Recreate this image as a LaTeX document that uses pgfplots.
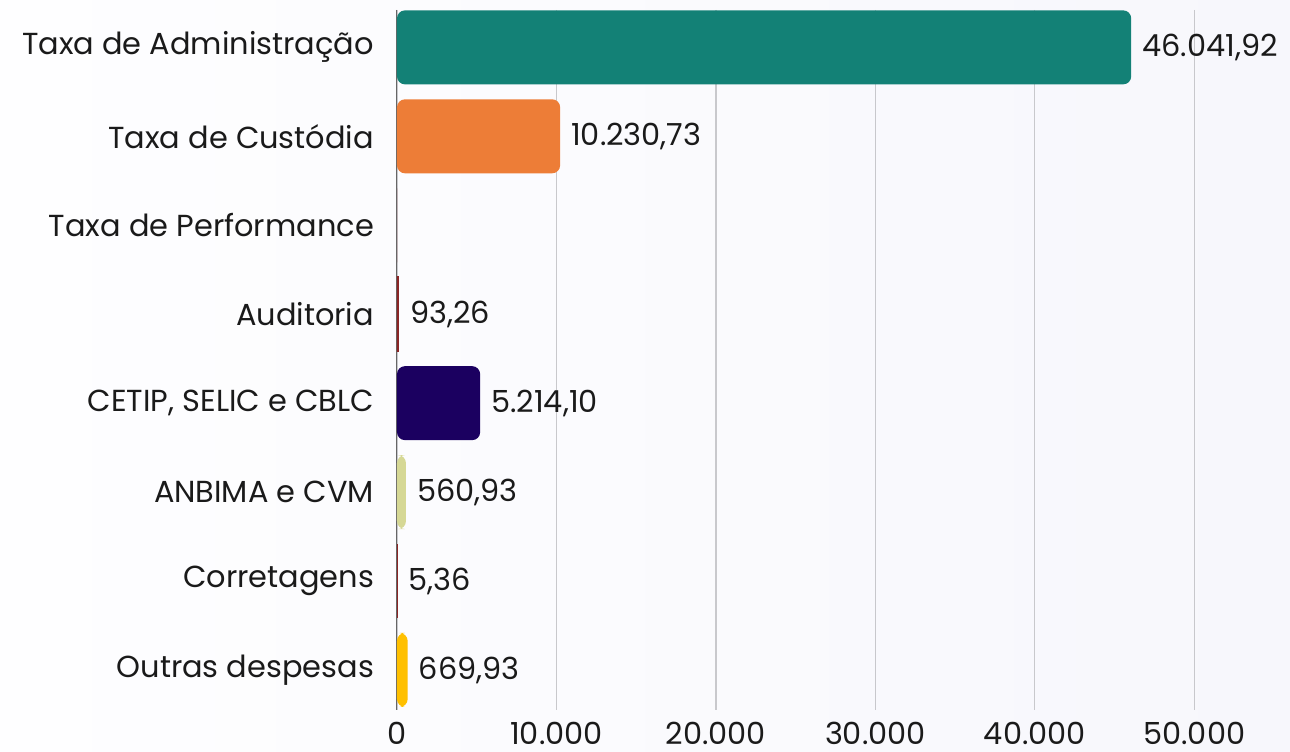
\documentclass[border=0pt]{standalone}
\usepackage{fontspec}
\setmainfont{Poppins}
\usepackage{pgfplots}
\pgfplotsset{compat=1.18}
\definecolor{cTeal}{HTML}{138176}
\definecolor{cOrange}{HTML}{ED7D37}
\definecolor{cRed}{HTML}{8B2525}
\definecolor{cIndigo}{HTML}{1B0060}
\definecolor{cOlive}{HTML}{D6D895}
\definecolor{cYellow}{HTML}{FFC000}
\definecolor{cGrid}{HTML}{C8C8CC}
\definecolor{cText}{HTML}{1A1A1A}
\definecolor{bgL}{HTML}{FEFEFF}
\definecolor{bgR}{HTML}{F7F7FC}
\begin{document}
\begin{tikzpicture}
\shade[left color=bgL, right color=bgR] (-198.5pt,-20.5pt) rectangle (446.5pt,355pt);
\begin{axis}[
  at={(0,0)}, anchor=south west,
  scale only axis, width=446.5pt, height=350pt,
  x coord trafo/.code={\begingroup\pgfkeys{/pgf/fpu=true,/pgf/fpu/output format=fixed}\pgfmathparse{#1+3000}\global\let\mytrafores\pgfmathresult\endgroup\let\pgfmathresult\mytrafores},
  x coord inv trafo/.code={\begingroup\pgfkeys{/pgf/fpu=true,/pgf/fpu/output format=fixed}\pgfmathparse{#1-3000}\global\let\mytrafores\pgfmathresult\endgroup\let\pgfmathresult\mytrafores},
  xmin=0, xmax=56000,
  ymin=-0.42, ymax=7.45, y dir=reverse,
  xbar, bar width=37pt, bar shift=0pt,
  scaled x ticks=false,
  xtick={0,10000,20000,30000,40000,50000},
  xticklabels={\textnormal{0},\textnormal{10.000},\textnormal{20.000},\textnormal{30.000},\textnormal{40.000},\textnormal{50.000}},
  ytick={0,1,2,3,4,5,6,7},
  yticklabels={Taxa de Administração,Taxa de Custódia,Taxa de Performance,Auditoria,{CETIP, SELIC e CBLC},ANBIMA e CVM,Corretagens,Outras despesas},
  /pgf/number format/assume math mode=true,
  major tick length=0pt,
  axis x line*=bottom, x axis line style={draw=none},
  axis y line*=left, y axis line style={draw=gray!80!black, line width=0.5pt},
  xmajorgrids, grid style={draw=cGrid, line width=0.6pt},
  tick label style={font=\fontsize{15.2}{18}\selectfont, text=cText},
  yticklabel style={xshift=-8pt},
  xticklabel style={yshift=-2.5pt},
  point meta=explicit symbolic,
  nodes near coords,
  every node near coord/.append style={font=\fontsize{15.2}{18}\selectfont, text=cText, anchor=west, xshift=2pt},
  mybar/.style={draw=none, fill=#1, rounded corners=4pt},
]
\addplot[mybar=cTeal] coordinates {(46041.92,0) [46.041,92]};
\addplot[mybar=cOrange] coordinates {(10230.73,1) [10.230,73]};
\addplot[mybar=cRed, rounded corners=0pt, nodes near coords=] coordinates {(0,2) []};
\addplot[mybar=cRed, rounded corners=0pt, draw=cRed, line width=0.9pt] coordinates {(93.26,3) [93,26]};
\addplot[mybar=cIndigo] coordinates {(5214.10,4) [5.214,10]};
\addplot[mybar=cOlive] coordinates {(560.93,5) [560,93]};
\addplot[mybar=cRed, rounded corners=0pt] coordinates {(5.36,6) [5,36]};
\addplot[mybar=cYellow] coordinates {(669.93,7) [669,93]};
\end{axis}
\end{tikzpicture}
\end{document}
